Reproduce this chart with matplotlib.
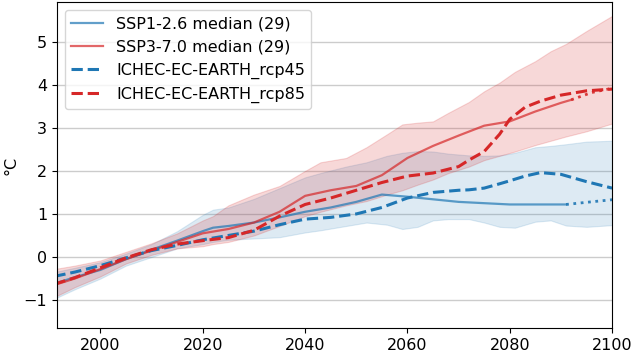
import numpy as np
import matplotlib
matplotlib.use("Agg")
import matplotlib.pyplot as plt

# SSP1-2.6 multi-model median and range
ssp1_years = [1991, 1995, 2000, 2005, 2010, 2015, 2020, 2022, 2025, 2030, 2035, 2040,
              2045, 2050, 2055, 2060, 2065, 2070, 2075, 2080, 2085, 2091]
ssp1_median = [-0.62, -0.47, -0.3, -0.05, 0.17, 0.38, 0.6, 0.68, 0.72, 0.8, 0.92, 1.05,
               1.15, 1.28, 1.45, 1.4, 1.34, 1.28, 1.25, 1.22, 1.22, 1.22]
ssp1_tail_years = [2091, 2095, 2100]
ssp1_tail = [1.22, 1.27, 1.33]

# SSP3-7.0 multi-model median and range
ssp3_years = [1991, 1995, 2000, 2005, 2010, 2015, 2020, 2025, 2030, 2035, 2040, 2045,
              2050, 2055, 2060, 2065, 2070, 2075, 2080, 2085, 2090, 2092]
ssp3_median = [-0.65, -0.5, -0.28, -0.05, 0.15, 0.35, 0.55, 0.65, 0.8, 1.05, 1.42, 1.55,
               1.65, 1.9, 2.3, 2.58, 2.82, 3.05, 3.15, 3.38, 3.58, 3.65]
ssp3_tail_years = [2092, 2096, 2100]
ssp3_tail = [3.65, 3.82, 3.92]

band_years = [1991, 1995, 2000, 2005, 2010, 2015, 2020, 2022, 2025, 2030, 2035, 2040,
              2043, 2048, 2052, 2056, 2059, 2062, 2065, 2068, 2072, 2075, 2078, 2081,
              2085, 2088, 2091, 2095, 2100]
ssp1_low = [-0.97, -0.75, -0.5, -0.2, 0.0, 0.2, 0.3, 0.35, 0.4, 0.43, 0.46, 0.57,
            0.62, 0.72, 0.8, 0.75, 0.65, 0.7, 0.85, 0.88, 0.88, 0.8, 0.7, 0.68,
            0.82, 0.85, 0.73, 0.7, 0.74]
ssp1_high = [-0.35, -0.25, -0.12, 0.08, 0.3, 0.6, 0.98, 1.1, 1.15, 1.35, 1.6, 1.85,
             1.95, 2.1, 2.2, 2.35, 2.42, 2.46, 2.45, 2.4, 2.36, 2.35, 2.36, 2.42,
             2.55, 2.58, 2.62, 2.68, 2.7]
ssp3_low = [-0.93, -0.7, -0.45, -0.15, 0.05, 0.2, 0.25, 0.3, 0.35, 0.5, 0.72, 0.95,
            1.05, 1.2, 1.3, 1.45, 1.55, 1.68, 1.8, 1.95, 2.1, 2.25, 2.35, 2.45,
            2.6, 2.7, 2.8, 2.92, 3.1]
ssp3_high = [-0.28, -0.2, -0.08, 0.12, 0.32, 0.55, 0.85, 0.95, 1.2, 1.45, 1.65, 2.0,
             2.2, 2.3, 2.55, 2.85, 3.08, 3.12, 3.15, 3.35, 3.6, 3.85, 4.05, 4.3,
             4.55, 4.78, 4.95, 5.25, 5.6]

# single model runs
ichec_years = [1991, 1995, 2000, 2005, 2010, 2015, 2020, 2025, 2030, 2035, 2040, 2045,
               2050, 2055, 2060, 2065, 2070, 2072, 2075, 2078, 2080, 2083, 2086, 2090,
               2095, 2100]
rcp45 = [-0.45, -0.35, -0.2, -0.02, 0.15, 0.27, 0.4, 0.5, 0.6, 0.75, 0.88, 0.92,
         1.0, 1.15, 1.37, 1.5, 1.55, 1.56, 1.6, 1.7, 1.77, 1.88, 1.96, 1.92,
         1.75, 1.6]
rcp85 = [-0.63, -0.48, -0.25, -0.02, 0.17, 0.3, 0.38, 0.45, 0.62, 0.95, 1.22, 1.37,
         1.55, 1.73, 1.88, 1.95, 2.1, 2.25, 2.45, 2.85, 3.2, 3.48, 3.62, 3.76,
         3.86, 3.9]

blue = "#1f77b4"
red = "#d62728"

fig = plt.figure(figsize=(6.33, 3.55), dpi=100)
ax = fig.add_axes([0.09, 0.076, 0.877, 0.918])

ax.fill_between(band_years, ssp1_low, ssp1_high, color=blue, alpha=0.15, lw=0.8)
ax.fill_between(band_years, ssp3_low, ssp3_high, color=red, alpha=0.18, lw=0.8)

ax.plot(ssp1_years, ssp1_median, color=blue, alpha=0.7, lw=1.6, label="SSP1-2.6 median (29)")
ax.plot(ssp1_tail_years, ssp1_tail, color=blue, alpha=0.9, lw=2, ls=":")
ax.plot(ssp3_years, ssp3_median, color=red, alpha=0.7, lw=1.6, label="SSP3-7.0 median (29)")
ax.plot(ssp3_tail_years, ssp3_tail, color=red, alpha=0.9, lw=2, ls=":")

ax.plot(ichec_years, rcp45, color=blue, lw=2.2, ls="--", label="ICHEC-EC-EARTH_rcp45")
ax.plot(ichec_years, rcp85, color=red, lw=2.2, ls="--", label="ICHEC-EC-EARTH_rcp85")

ax.set_xlim(1991.5, 2100)
ax.set_ylim(-1.65, 5.92)
ax.set_yticks(range(-1, 6))
ax.set_xticks(range(2000, 2101, 20))
ax.tick_params(labelsize=11.5)
ax.yaxis.grid(True, color="#cccccc", lw=1)
ax.set_axisbelow(True)
ax.set_ylabel("°C", fontsize=11.5)

ax.legend(loc="upper left", fontsize=11.5, handlelength=2.0)

fig.savefig("out.png", dpi=100)
